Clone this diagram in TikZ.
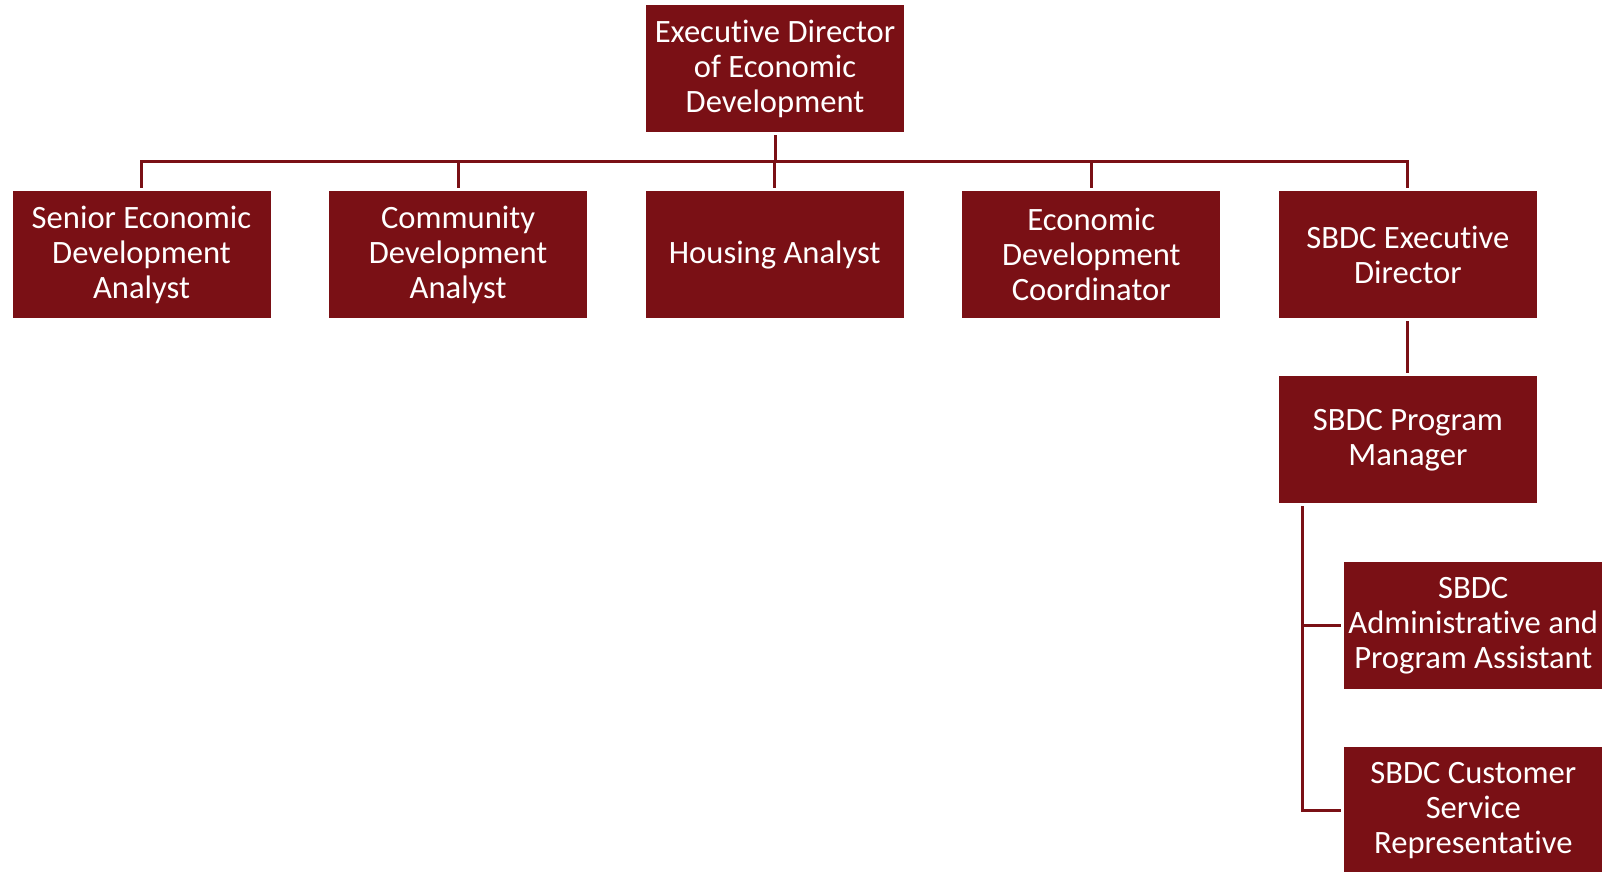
\documentclass[tikz,border=0pt]{standalone}
\usepackage{fontspec}
\setmainfont{Carlito}[Ligatures=NoCommon]
\definecolor{r122g16b21}{rgb}{0.478000,0.063000,0.082000}%
\begin{document}
\begin{tikzpicture}[x=0.5pt,y=-0.5pt,
    post/.style={rectangle, fill=r122g16b21, text=white, inner sep=0pt,
      minimum width=129pt, minimum height=63.5pt, align=center,
      font=\fontsize{16.3}{17.5}\selectfont},
    link/.style={draw=r122g16b21, line width=1.5pt, shorten <=1.5pt, shorten >=1.5pt}]
\useasboundingbox (0,0) rectangle (1614,872);
{
% Drawing top post
\node [post] (exec) at (775.0,68.5) {Executive Director\\of Economic\\Development};%

% Drawing second row
\node [post] (senior) at (141.5,254.5) {Senior Economic\\Development\\Analyst};%
\node [post] (community) at (458.1,254.5) {Community\\Development\\Analyst};%
\node [post] (housing) at (774.7,254.5) {Housing Analyst};%
\node [post] (coord) at (1091.3,254.5) {Economic\\Development\\Coordinator};%
\node [post] (sbdcexec) at (1407.9,254.5) {SBDC Executive\\Director};%

% Drawing SBDC branch
\node [post] (manager) at (1407.9,439.8) {SBDC Program\\Manager};%
\node [post] (assistant) at (1473.3,625.7) {SBDC\\Administrative and\\Program Assistant};%
\node [post] (service) at (1473.3,810.8) {SBDC Customer\\Service\\Representative};%

% Drawing connectors
\coordinate (bus) at (775.0,161.7);%
\coordinate (stem) at (1302.7,503.3);%
\foreach \child in {senior,community,housing,coord,sbdcexec}
  \draw [link] (exec.south) -- (bus) -| (\child.north);%
\draw [link] (sbdcexec) -- (manager);%
\draw [link] (stem) |- (assistant.west);%
\draw [link] (stem) |- (service.west);%
}
\end{tikzpicture}
\end{document}
